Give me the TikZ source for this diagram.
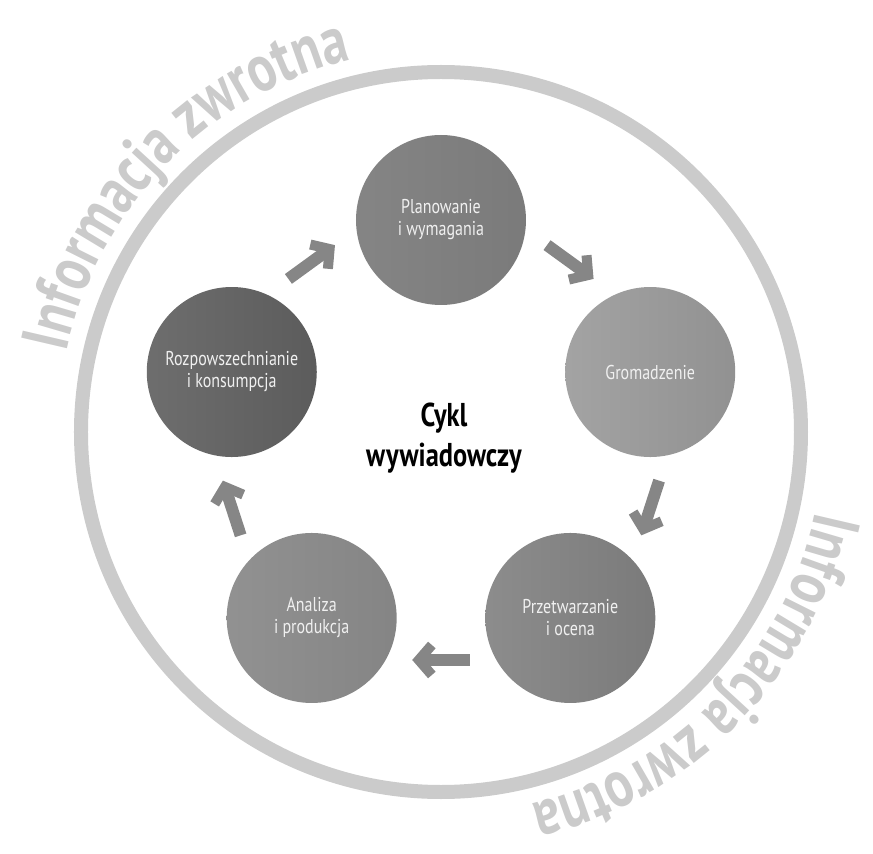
\documentclass[tikz,border=0pt]{standalone}
\usepackage{fontspec}
\setmainfont[FakeStretch=0.8]{PT Sans}
\newfontfamily\ringfont[FakeStretch=0.78]{PT Sans Bold}
\usepackage{xcolor}
\usetikzlibrary{arrows.meta, decorations.text, calc}
\definecolor{ringgray}{HTML}{CBCBCB}
\definecolor{arrowgray}{HTML}{868686}

\tikzset{
    phase/.style = {circle, minimum size=170pt, inner sep=0pt, align=center,
        text=white!94!black, font=\fontsize{20}{22}\selectfont},
    flow/.style = {line width=12pt, arrowgray, -{Straight Barb[length=13pt, width=30pt, line width=10pt]}},
    feedback/.style = {decorate, decoration={text along path, text align=left,
        text color=ringgray, text={|\ringfont\fontsize{67}{67}\selectfont|Informacja zwrotna}}}
}

\begin{document}
\begin{tikzpicture}[x=1pt, y=1pt]
        \useasboundingbox (-441,-414) rectangle (432,440);
        \coordinate (hub) at (0,0);

        \draw[ringgray, line width=14pt] (0,8) circle (360);
        \path[feedback] ($(0,8) + (168:383)$) arc[start angle=168, end angle=60, radius=383];
        \path[feedback] ($(0,8) + (-12:383)$) arc[start angle=-12, end angle=-120, radius=383];

        \node[phase, left color=black!48, right color=black!52] at (90:220) (plan) {Planowanie\\i wymagania};
        \node[phase, left color=black!36, right color=black!43] at (18:220) (grom) {Gromadzenie};
        \node[phase, left color=black!45, right color=black!52] at (-54:220) (przet) {Przetwarzanie\\i ocena};
        \node[phase, left color=black!43, right color=black!48] at (-126:220) (anal) {Analiza\\i produkcja};
        \node[phase, left color=black!57, right color=black!64] at (162:220) (rozp) {Rozpowszechnianie\\i konsumpcja};

        \node[font=\bfseries\fontsize{33}{40}\selectfont, align=center] at (3,2) (title) {Cykl\\wywiadowczy};

        \foreach \from/\to in {rozp/plan, plan/grom, grom/przet, przet/anal, anal/rozp}
            \draw[flow] ($(hub)!1.236!($(\from)!0.41!(\to)$)$) -- ($(hub)!1.236!($(\from)!0.59!(\to)$)$);
    \end{tikzpicture}
\end{document}
